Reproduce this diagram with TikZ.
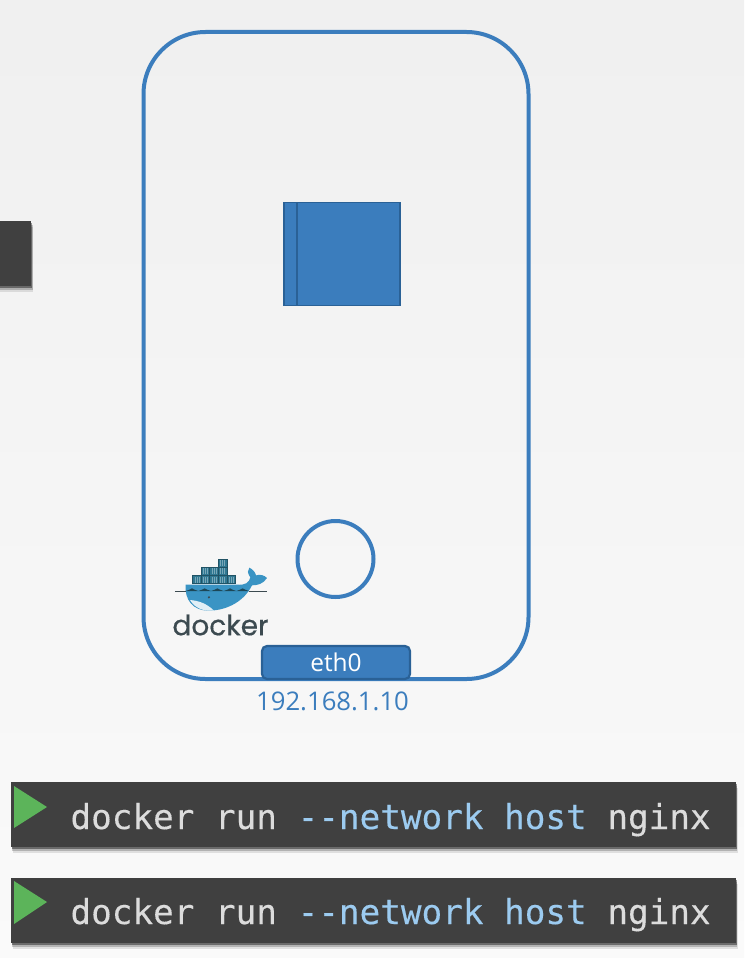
\documentclass[tikz,border=0pt]{standalone}
\usepackage{fontspec}
\setmainfont{Open Sans}
\newfontfamily\codefont[FakeBold=0.25]{DejaVu Sans Mono}
\newfontfamily\logofont[FakeBold=0.5]{Poppins}
\definecolor{hostblue}{HTML}{3B7DBD}
\definecolor{edgeblue}{HTML}{2A6196}
\definecolor{termgray}{HTML}{404040}
\definecolor{codegray}{HTML}{DCDCDC}
\definecolor{codeblue}{HTML}{9CCBF0}
\definecolor{playgreen}{HTML}{5CB45A}
\definecolor{whaleblue}{HTML}{3A94C4}
\definecolor{crateblue}{HTML}{2F7791}
\definecolor{logogray}{HTML}{3C4A50}
\tikzset{
	every node/.style={outer sep=0pt},
	termbox/.style={fill=termgray, anchor=north west, inner sep=0pt,
		preaction={fill=black, fill opacity=.10, transform canvas={shift={(2pt,-6pt)}}},
		preaction={fill=black, fill opacity=.20, transform canvas={shift={(1.5pt,-4pt)}}},
		preaction={fill=black, fill opacity=.40, transform canvas={shift={(1pt,-2pt)}}}},
	cmdtext/.style={anchor=base west, inner sep=0pt, text=codegray, font=\codefont\fontsize{34.3}{36}\selectfont},
	play/.style={fill=playgreen},
	crate/.style={fill=crateblue, draw=crateblue!70!black, line width=.4pt}
}
\newcommand{\cmdline}{docker run \textcolor{codeblue}{--network host} nginx}
\begin{document}
\begin{tikzpicture}[x=1pt,y=-1pt]
		% Page
		\useasboundingbox (0,0) rectangle (744,958);
		\shade[top color=black!6, bottom color=black!2] (0,0) rectangle (744,958);

		% Host box
		\node[draw=hostblue, line width=4pt, rounded corners=62pt, minimum width=385pt, minimum height=647pt, inner sep=0pt, anchor=north west] (host) at (143.5,32) {};

		% Container
		\node[fill=hostblue, draw=edgeblue, line width=1.8pt, minimum width=116pt, minimum height=103pt, inner sep=0pt, anchor=north west] (container) at (284,202.5) {};
		\node[draw=edgeblue, line width=1.8pt, minimum width=103pt, minimum height=103pt, inner sep=0pt, anchor=north west] (containerfront) at (297,202.5) {};

		% Namespace circle
		\node[circle, draw=hostblue, line width=4pt, minimum size=76pt, inner sep=0pt] (ns) at (335.5,559) {};

		% Interface
		\node[fill=hostblue, draw=edgeblue, line width=2.2pt, rounded corners=5pt, minimum width=148pt, minimum height=33pt, inner sep=0pt, anchor=north west, text=white, font=\fontsize{24.5}{26}\selectfont] (eth) at (262,646) {eth0};
		\node[text=hostblue, inner sep=0pt, font=\fontsize{25.7}{28}\selectfont] (ip) at (332.5,701) {192.168.1.10};

		% Terminals
		\node[termbox, minimum width=60pt, minimum height=65pt] (termleft) at (-29,221) {};
		\node[termbox, minimum width=725pt, minimum height=65pt] (termone) at (10.5,782) {};
		\node[termbox, minimum width=725pt, minimum height=65pt] (termtwo) at (10.5,878) {};
		\fill[play] (14,786) -- (47,807) -- (14,828) -- cycle;
		\fill[play] (14,881) -- (47,902) -- (14,924) -- cycle;
		\node[cmdtext] (cmdone) at (70.5,829) {\cmdline};
		\node[cmdtext] (cmdtwo) at (70.5,924) {\cmdline};

		% Docker logo
		\begin{scope}[shift={(150,540)},x=.3333pt,y=-.3333pt]
			\foreach \cx/\cy in {205/57, 153/82, 179/82, 205/82, 128/107, 153/107, 179/107, 205/107, 231/107}
				\draw[crate] (\cx,\cy) rectangle ++(26,24);
			\foreach \cx/\cy in {205/57, 153/82, 179/82, 205/82, 128/107, 153/107, 179/107, 205/107, 231/107}
				\foreach \dx in {7,13,19}
					\draw[white!35!crateblue, line width=.4pt] (\cx+\dx,\cy+3) -- (\cx+\dx,\cy+21);
			% whale body
			\fill[whaleblue] (107,134) -- (262,134) .. controls (285,136) and (298,128) .. (301,112)
				.. controls (292,100) and (292,90) .. (298,83)
				.. controls (308,88) and (316,96) .. (318,106)
				.. controls (330,102) and (344,106) .. (351,114)
				.. controls (340,132) and (322,136) .. (306,136)
				.. controls (285,180) and (235,212) .. (175,212)
				.. controls (130,212) and (103,180) .. (107,134) -- cycle;
			\fill[white!85!whaleblue] (120,180) .. controls (145,182) and (170,190) .. (192,212)
				.. controls (160,214) and (135,205) .. (120,180) -- cycle;
			\fill[logogray] (177,172) circle (3.5);
			% water line
			\draw[logogray, line width=.8pt] (75,153) -- (107,153);
			\draw[logogray, line width=.8pt] (297,153) -- (350,153);
			\foreach \wx in {107,145,183,221,259}
				\fill[crateblue!60!black] (\wx,153) .. controls (\wx+10,153) and (\wx+14,145) .. (\wx+19,145)
					.. controls (\wx+24,145) and (\wx+28,153) .. (\wx+38,153) -- cycle;
		\end{scope}
		\node[text=logogray, inner sep=0pt, font=\logofont\fontsize{28}{30}\selectfont] (logotext) at (220.5,625) {docker};
	\end{tikzpicture}
\end{document}
